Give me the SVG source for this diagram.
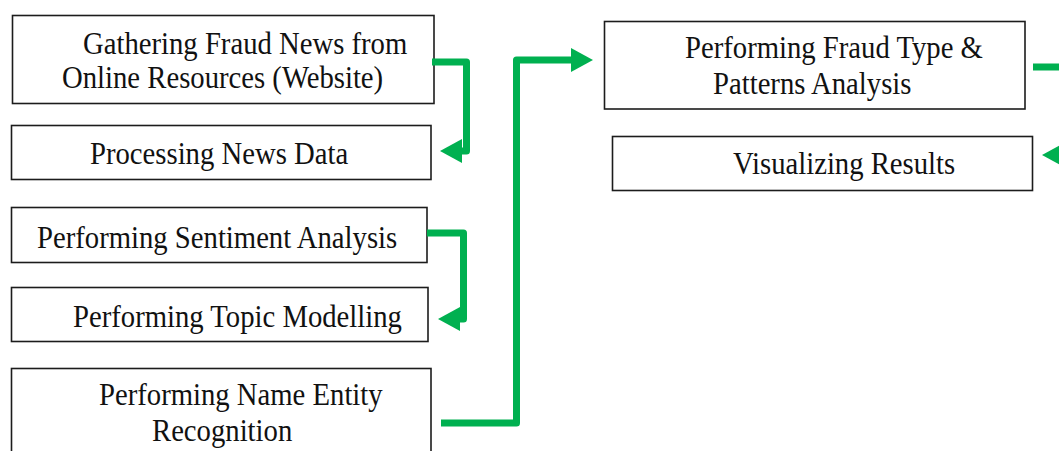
<svg xmlns="http://www.w3.org/2000/svg" width="1059" height="451" viewBox="0 0 1059 451">
  <style>
    .box { fill: #ffffff; stroke: #1c1c1c; stroke-width: 1.6; }
    .lbl { font-family: "Liberation Serif", "Times New Roman", serif; font-size: 28.7px; fill: #111111; }
    .conn { fill: none; stroke: #00B050; stroke-width: 7; stroke-linejoin: round; }
  </style>
  <defs>
    <marker id="arrow" markerUnits="userSpaceOnUse" markerWidth="22" markerHeight="24" viewBox="0 0 22 24" refX="4" refY="12" orient="auto">
      <path d="M0,0 L22,12 L0,24 Z" fill="#00B050"/>
    </marker>
  </defs>
  <rect width="1059" height="451" fill="#ffffff"/>

  <g id="node-gathering">
    <rect class="box" x="12.5" y="15.5" width="421.5" height="88"/>
    <text class="lbl" transform="translate(83,54) scale(1,1.08)">Gathering Fraud News from</text>
    <text class="lbl" transform="translate(62,88) scale(1,1.08)">Online Resources (Website)</text>
  </g>
  <g id="node-processing">
    <rect class="box" x="11.5" y="125.5" width="419.5" height="54"/>
    <text class="lbl" transform="translate(90,164) scale(1,1.08)">Processing News Data</text>
  </g>
  <g id="node-sentiment">
    <rect class="box" x="11.5" y="207.5" width="415.5" height="55"/>
    <text class="lbl" transform="translate(37,248) scale(1,1.08)">Performing Sentiment Analysis</text>
  </g>
  <g id="node-topic">
    <rect class="box" x="11.5" y="287.5" width="416.5" height="54"/>
    <text class="lbl" transform="translate(73,327) scale(1,1.08)">Performing Topic Modelling</text>
  </g>
  <g id="node-ner">
    <rect class="box" x="11.5" y="368.5" width="419.5" height="90"/>
    <text class="lbl" transform="translate(99,405) scale(1,1.08)">Performing Name Entity</text>
    <text class="lbl" transform="translate(152,441) scale(1,1.08)">Recognition</text>
  </g>
  <g id="node-fraudtype">
    <rect class="box" x="604.5" y="21.5" width="420.5" height="87.5"/>
    <text class="lbl" transform="translate(685,58) scale(1,1.08)">Performing Fraud Type &amp;</text>
    <text class="lbl" transform="translate(713,94) scale(1,1.08)">Patterns Analysis</text>
  </g>
  <g id="node-visualizing">
    <rect class="box" x="612.5" y="136.5" width="420" height="54"/>
    <text class="lbl" transform="translate(733,173.5) scale(1,1.08)">Visualizing Results</text>
  </g>

  <g id="connectors">
    <path class="conn" d="M432,62 H466.5 V151 H458" marker-end="url(#arrow)"/>
    <path class="conn" d="M427,233 H463.5 V319 H456" marker-end="url(#arrow)"/>
    <path class="conn" d="M441,423 H516.5 V60 H575" marker-end="url(#arrow)"/>
    <path class="conn" d="M1033,67 H1070"/>
    <path class="conn" d="M1090,155 H1060" marker-end="url(#arrow)"/>
  </g>
</svg>
